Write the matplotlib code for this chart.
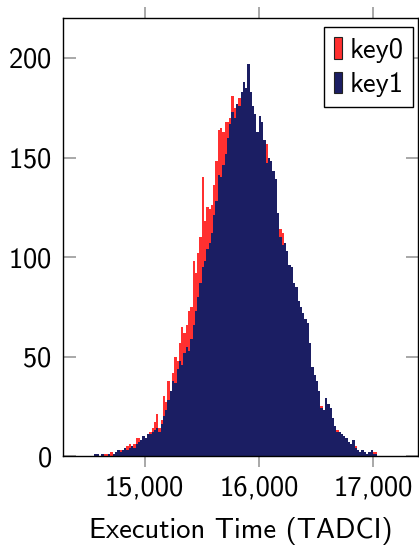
import numpy as np
import matplotlib
matplotlib.use('Agg')
import matplotlib.pyplot as plt
from matplotlib.patches import Patch
from matplotlib.ticker import FuncFormatter

# histogram bins: 20-cycle wide, first edge at 14500
bin_start = 14500
bin_width = 20

key0_counts = [
    0, 0, 0, 0, 0, 0, 1, 1, 1, 1,
    2, 1, 1, 2, 3, 3, 4, 5, 6, 5,
    6, 9, 9, 8, 10, 8, 11, 12, 14, 17,
    21, 14, 18, 30, 27, 38, 31, 42, 50, 48,
    57, 65, 62, 66, 73, 75, 98, 92, 102, 110,
    140, 118, 125, 124, 126, 136, 148, 164, 165, 163,
    168, 168, 170, 181, 175, 176, 180, 170, 180, 178,
    175, 172, 168, 165, 160, 163, 161, 159, 157, 149,
    140, 136, 131, 120, 114, 112, 103, 98, 92, 90,
    84, 80, 75, 70, 68, 64, 60, 52, 44, 39,
    34, 30, 25, 22, 24, 20, 18, 16, 15, 13,
    10, 9, 7, 6, 5, 5, 4, 5, 3, 2,
    2, 1, 1, 1, 1, 2, 2, 0, 0, 0,
    0, 0,
]

key1_counts = [
    0, 0, 0, 1, 1, 0, 1, 0, 0, 1,
    0, 1, 2, 3, 2, 3, 4, 3, 4, 5,
    4, 6, 7, 8, 10, 9, 11, 11, 12, 13,
    14, 12, 16, 20, 23, 28, 33, 38, 37, 44,
    48, 46, 52, 55, 53, 59, 66, 73, 80, 87,
    95, 98, 104, 107, 112, 121, 128, 141, 140, 146,
    152, 160, 167, 173, 170, 177, 176, 183, 188, 185,
    197, 183, 176, 172, 163, 171, 168, 159, 147, 150,
    148, 143, 139, 122, 110, 106, 107, 103, 96, 95,
    87, 85, 78, 75, 72, 69, 67, 57, 45, 41,
    38, 33, 24, 23, 29, 26, 24, 19, 15, 12,
    12, 11, 10, 9, 7, 6, 8, 4, 3, 2,
    3, 2, 1, 2, 3, 1, 1, 0, 0, 0,
    0, 0,
]

edges = bin_start + bin_width * np.arange(len(key1_counts) + 1)

red = '#ff3030'
navy = '#1b1e63'
fs = 20.5

plt.rcParams['font.family'] = ['cmss10', 'DejaVu Sans']
plt.rcParams['axes.formatter.use_mathtext'] = True

fig = plt.figure(figsize=(4.19, 5.49), dpi=100)
ax = fig.add_axes([0.150, 0.169, 0.848, 0.798])

ax.stairs(key0_counts, edges, fill=True, color=red, linewidth=0)
ax.stairs(key1_counts, edges, fill=True, color=navy, linewidth=0)

ax.set_xlim(14283, 17397)
ax.set_ylim(0, 220)
ax.set_xticks([15000, 16000, 17000])
ax.set_yticks([0, 50, 100, 150, 200])
ax.xaxis.set_major_formatter(FuncFormatter(lambda v, p: f'{int(v):,}'))

ax.tick_params(axis='x', direction='out', length=8, width=1.2, color='#999999',
               labelsize=fs, pad=6, top=True)
ax.tick_params(axis='y', direction='in', length=9, width=1.2, color='#999999',
               labelsize=fs, pad=8, right=True)

for sp in ax.spines.values():
    sp.set_linewidth(1.0)
    sp.set_color('black')

ax.set_xlabel('Execution Time (TADCI)', fontsize=fs, labelpad=12)

handles = [Patch(facecolor=red, edgecolor='#222222', linewidth=0.8, label='key0'),
           Patch(facecolor=navy, edgecolor='#222222', linewidth=0.8, label='key1')]
leg = ax.legend(handles=handles, loc='upper right', fontsize=fs, fancybox=False,
                framealpha=1, edgecolor='black', handlelength=0.3, handleheight=0.8,
                handletextpad=0.25, borderpad=0.35, labelspacing=0.3,
                borderaxespad=0, bbox_to_anchor=(0.986, 0.979))
leg.get_frame().set_linewidth(1.0)

fig.savefig('out.png', dpi=100)
